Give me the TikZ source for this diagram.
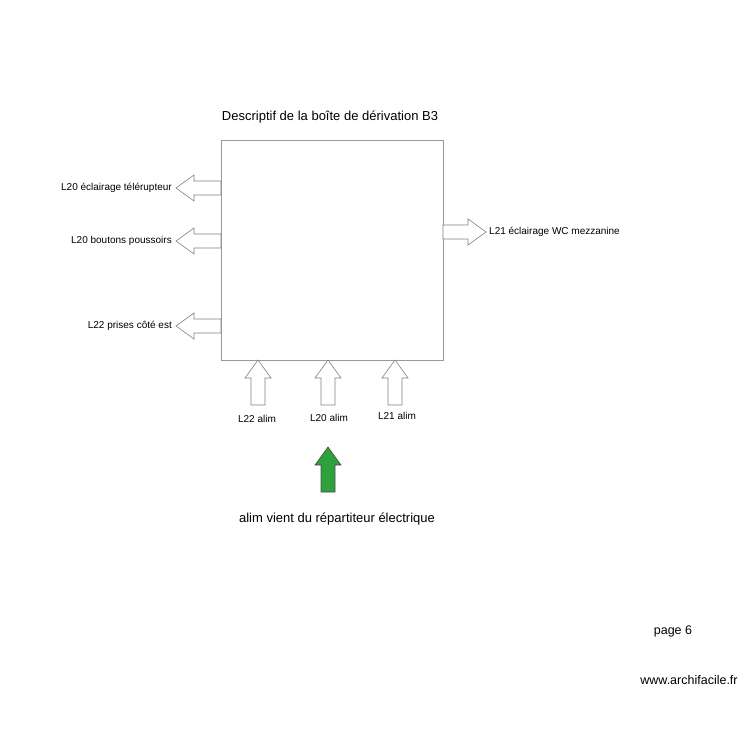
\documentclass[tikz,border=0pt]{standalone}
\usepackage{fontspec}
\setmainfont{Liberation Sans}
\begin{document}
\begin{tikzpicture}[x=1pt,y=-1pt,
  arr/.style={draw=gray,line width=0.6pt,fill=white},
  lbl/.style={font=\fontsize{10}{12}\selectfont,inner sep=1pt}]
\newcommand\bigarrow[4][]{%
  \begin{scope}[shift={#2},rotate=#3]
  \draw[arr,#1] (0,0) -- (18,-13) -- (18,-7) -- (#4,-7) -- (#4,7) -- (18,7) -- (18,13) -- cycle;
  \end{scope}}
\useasboundingbox (0,0) rectangle (750,750);
\node[font=\fontsize{13}{15}\selectfont] (title) at (330,117) {Descriptif de la boîte de dérivation B3};
\node[draw=gray!80,line width=0.6pt,minimum width=222pt,minimum height=220pt,anchor=north west,inner sep=0pt] (box) at (221,140) {};
\bigarrow{(176,188)}{0}{45}
\bigarrow{(176,241)}{0}{45}
\bigarrow{(176,326)}{0}{45}
\bigarrow{(486,232)}{180}{43}
\bigarrow{(258,360)}{-90}{45}
\bigarrow{(328,360)}{-90}{45}
\bigarrow{(395,360)}{-90}{45}
\bigarrow[fill={rgb,255:red,46;green,160;blue,60},draw=gray!60!black]{(328,447)}{-90}{45}
\node[lbl,anchor=east] (l1) at (173,188) {L20 éclairage télérupteur};
\node[lbl,anchor=east] (l2) at (173,241) {L20 boutons poussoirs};
\node[lbl,anchor=east] (l3) at (173,326) {L22 prises côté est};
\node[lbl,anchor=west] (l4) at (488,232) {L21 éclairage WC mezzanine};
\node[lbl] (m1) at (257,419) {L22 alim};
\node[lbl] (m2) at (329,418) {L20 alim};
\node[lbl] (m3) at (397,416) {L21 alim};
\node[font=\fontsize{13}{15}\selectfont] (src) at (337,519) {alim vient du répartiteur électrique};
\node[font=\fontsize{12.5}{15}\selectfont] (pg) at (673,631) {page 6};
\node[font=\fontsize{12.5}{15}\selectfont] (web) at (689,680) {www.archifacile.fr};
\end{tikzpicture}
\end{document}
